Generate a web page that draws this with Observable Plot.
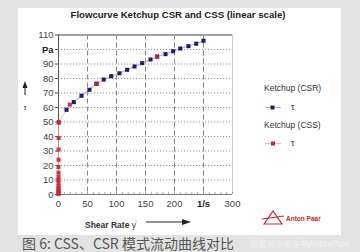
<!DOCTYPE html>
<html><head><meta charset="utf-8">
<script src="https://cdn.jsdelivr.net/npm/d3@7"></script>
<script src="https://cdn.jsdelivr.net/npm/@observablehq/plot@0.6"></script>
<style>
html,body{margin:0;padding:0;}
body{width:360px;height:252px;background:#e3e3e3;position:relative;overflow:hidden;font-family:"Liberation Sans",Arial,sans-serif;}
#panel{position:absolute;left:18px;top:8px;width:323px;height:227px;background:#fff;}
#chart{position:absolute;left:0;top:0;}
.abs{position:absolute;white-space:nowrap;}
#title{left:0;width:356px;top:9px;text-align:center;font-weight:bold;font-size:9.6px;color:#222;}
.leg{font-size:8.5px;color:#333;}
#caption{left:22px;top:235px;line-height:16px;font-family:"Noto Sans CJK SC",sans-serif;font-size:14px;color:#555;}
#wm{left:250px;top:238px;line-height:11px;font-family:"Noto Sans CJK SC",sans-serif;font-size:8.5px;color:#f2f2f2;}
#xlab{left:85px;top:220px;font-size:8.5px;font-weight:bold;color:#333;}
</style></head>
<body>
<div id="panel"></div>
<div id="chart"></div>
<div id="title" class="abs">Flowcurve Ketchup CSR and CSS (linear scale)</div>
<div class="abs leg" style="left:264px;top:83px;">Ketchup (CSR)</div>
<div class="abs leg" style="left:264px;top:120px;">Ketchup (CSS)</div>
<div class="abs leg" style="left:291px;top:102px;font-size:9px;">τ</div>
<div class="abs leg" style="left:291px;top:138px;font-size:9px;">τ</div>
<svg class="abs" style="left:262px;top:100px;" width="24" height="50">
  <line x1="3" y1="7.5" x2="19" y2="7.5" stroke="#9a9ad0" stroke-width="0.8"/>
  <rect x="8.5" y="5.5" width="4" height="4" fill="#1c1c78"/>
  <line x1="3" y1="43.5" x2="19" y2="43.5" stroke="#f0a8a8" stroke-width="0.8"/>
  <rect x="9" y="41.5" width="4" height="4" fill="#c8262c"/>
</svg>
<svg class="abs" style="left:20px;top:80px;" width="12" height="40">
  <line x1="5" y1="4" x2="5" y2="15" stroke="#222" stroke-width="1"/>
  <polygon points="5,1 2.5,8 7.5,8" fill="#222"/>
  <text x="5" y="30" font-size="8" text-anchor="middle" fill="#333">τ</text>
</svg>
<div id="xlab" class="abs">Shear Rate <span style="font-weight:normal">γ̇</span></div>
<svg class="abs" style="left:145px;top:217px;" width="50" height="10">
  <line x1="1" y1="5" x2="40" y2="5" stroke="#222" stroke-width="1"/>
  <polygon points="46,5 37,2 37,8" fill="#222"/>
</svg>
<svg class="abs" style="left:260px;top:208px;" width="70" height="22">
  <polygon points="4,16 13,3 22,16" fill="none" stroke="#c8262c" stroke-width="1.2"/>
  <line x1="2" y1="11" x2="24" y2="8" stroke="#c8262c" stroke-width="1"/>
  <text x="26" y="13" font-size="6.5" font-weight="bold" fill="#c8262c" font-family="Liberation Sans, Arial">Anton Paar</text>
</svg>
<div id="caption" class="abs">图 6: CSS、CSR 模式流动曲线对比</div>
<div id="wm" class="abs">搜狐号@安东帕AntonPaar</div>
<script>
// CSR (controlled shear rate) ketchup
const csrRate   = [13.8, 26.4, 39.7, 53.4, 65.5, 78, 90.8, 105, 118.4, 131, 144.3, 158.6, 170, 184.5, 197.7, 210, 224, 237.4, 250];
const csrStress = [58.4, 63.7, 68.1, 72.2, 76.3, 79.3, 81.6, 83.6, 86, 88.3, 90.6, 93.1, 95.2, 96.8, 98.8, 100.7, 102.3, 104, 106];
// CSS (controlled shear stress) ketchup
const cssRate   = [0, 0, 0, 0, 0, 0, 0, 0, 0, 0, 0, 0.1, 0.1, 0.2, 0.3, 0.5, 19.5, 65.5, 170];
const cssStress = [0.3, 1, 2, 3, 4.5, 6, 8, 10, 12, 15, 19, 24, 31, 39, 49.5, 50, 62, 76.5, 95];
// axes
const xTicks = [0, 50, 100, 150, 200, 250, 300];
const xTickLabels = ["0", "50", "100", "150", "200", "1/s", "300"];
const yTicks = [0, 10, 20, 30, 40, 50, 60, 70, 80, 90, 100, 110];
const yTickLabels = ["0", "10", "20", "30", "40", "50", "60", "70", "80", "90", "Pa", "110"];
const xGrid = [50, 100, 150, 200, 250];
const yGrid = [10, 20, 30, 40, 50, 60, 70, 80, 90, 100];
const xMinor = d3.range(0, 301, 10);

const csr = csrRate.map((x, i) => ({x, y: csrStress[i]}));
const css = cssRate.map((x, i) => ({x, y: cssStress[i]}));

const chart = Plot.plot({
  width: 360, height: 215,
  marginLeft: 58, marginRight: 128, marginTop: 34.5, marginBottom: 21,
  style: {background: "transparent", fontFamily: "Liberation Sans, Arial, sans-serif", fontSize: "9.5px", color: "#444"},
  x: {domain: [0, 300]},
  y: {domain: [0, 110]},
  marks: [
    Plot.ruleY(yGrid, {stroke: "#777", strokeDasharray: "1.2,1.8", strokeWidth: 0.8}),
    Plot.ruleX(xGrid, {stroke: "#666", strokeDasharray: "5,3", strokeWidth: 0.8}),
    Plot.ruleX([300], {stroke: "#bbb", strokeWidth: 0.8}),
    Plot.ruleY([110], {stroke: "#a0a0a0", strokeWidth: 2}),
    Plot.ruleX(xMinor, {y1: 0, y2: 1.3, stroke: "#777", strokeWidth: 0.7}),
    Plot.ruleY([0], {stroke: "#777", strokeWidth: 1}),
    Plot.ruleX([0], {stroke: "#555", strokeWidth: 1}),
    Plot.axisY({ticks: yTicks, tickFormat: d => yTickLabels[yTicks.indexOf(d)], tickSize: 3, tickPadding: 2, label: null, stroke: "#555", fill: "#444"}),
    Plot.axisX({ticks: xTicks, tickFormat: d => xTickLabels[xTicks.indexOf(d)], tickSize: 0, tickPadding: 6, label: null, fill: "#444"}),
    Plot.line(csr, {x: "x", y: "y", stroke: "#9a9ad0", strokeWidth: 0.8}),
    Plot.line(css, {x: "x", y: "y", stroke: "#f0a8a8", strokeWidth: 0.8}),
    Plot.dot(csr, {x: "x", y: "y", symbol: "square", r: 2.3, fill: "#1c1c78", stroke: "none"}),
    Plot.dot(css, {x: "x", y: "y", symbol: "square", r: 2.3, fill: "#c8262c", stroke: "none", fillOpacity: 0.9})
  ]
});
d3.select(chart).selectAll("text").filter(function(){ const t = this.textContent; return t === "Pa" || t === "1/s"; }).attr("font-weight", "bold").attr("fill", "#222");
document.getElementById("chart").appendChild(chart);
</script>
</body></html>
